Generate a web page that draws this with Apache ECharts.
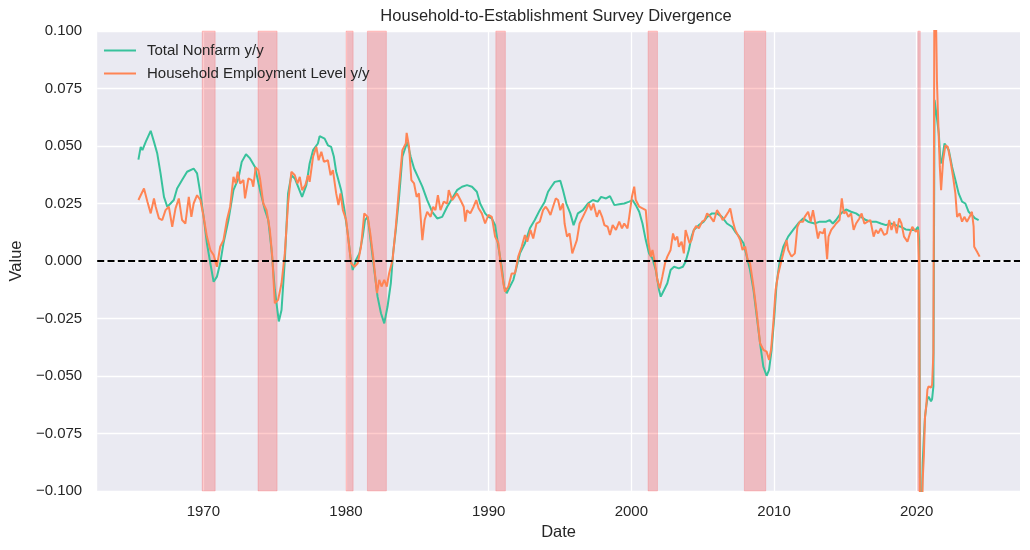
<!DOCTYPE html>
<html>
<head>
<meta charset="utf-8">
<title>Household-to-Establishment Survey Divergence</title>
<script src="https://cdn.jsdelivr.net/npm/echarts@6/dist/echarts.min.js"></script>
<style>
  html, body { margin: 0; padding: 0; background: #fff; }
  #chart { width: 1030px; height: 550px; }
</style>
</head>
<body>
<div id="chart"></div>
<script>
// y/y growth (decimal years)
const nonfarmDates = [
  1965.45, 1965.61, 1965.73, 1965.96, 1966.31, 1966.54, 1966.77, 1967.00, 1967.24, 1967.47,
  1967.70, 1967.93, 1968.16, 1968.51, 1968.86, 1969.32, 1969.56, 1969.79, 1970.02, 1970.25,
  1970.49, 1970.72, 1970.95, 1971.18, 1971.41, 1971.76, 1972.11, 1972.46, 1972.69, 1972.99,
  1973.27, 1973.62, 1973.97, 1974.32, 1974.55, 1974.78, 1975.01, 1975.29, 1975.48, 1975.71,
  1975.94, 1976.17, 1976.41, 1976.64, 1976.92, 1977.22, 1977.45, 1977.69, 1978.03, 1978.15,
  1978.50, 1978.73, 1978.96, 1979.15, 1979.31, 1979.66, 1979.89, 1980.12, 1980.31, 1980.47,
  1980.70, 1980.94, 1981.17, 1981.33, 1981.52, 1981.75, 1981.98, 1982.21, 1982.45, 1982.68,
  1982.91, 1983.14, 1983.30, 1983.49, 1983.72, 1983.95, 1984.14, 1984.30, 1984.53, 1984.77,
  1985.04, 1985.35, 1985.69, 1986.04, 1986.39, 1986.74, 1987.09, 1987.44, 1987.78, 1988.13,
  1988.48, 1988.83, 1989.17, 1989.40, 1989.75, 1989.98, 1990.22, 1990.45, 1990.68, 1990.91,
  1991.08, 1991.26, 1991.49, 1991.73, 1991.96, 1992.19, 1992.54, 1992.89, 1993.23, 1993.58,
  1993.93, 1994.16, 1994.39, 1994.63, 1995.02, 1995.21, 1995.44, 1995.72, 1995.95, 1996.25,
  1996.60, 1996.95, 1997.30, 1997.64, 1997.88, 1998.23, 1998.50, 1998.81, 1999.15, 1999.50,
  1999.85, 2000.08, 2000.31, 2000.55, 2000.78, 2001.01, 2001.24, 2001.47, 2001.71, 2001.94,
  2002.06, 2002.29, 2002.52, 2002.75, 2002.99, 2003.33, 2003.61, 2003.80, 2004.03, 2004.22,
  2004.38, 2004.73, 2005.07, 2005.31, 2005.65, 2006.00, 2006.35, 2006.70, 2007.05, 2007.28,
  2007.56, 2007.86, 2008.09, 2008.32, 2008.56, 2008.79, 2009.02, 2009.25, 2009.48, 2009.65,
  2009.83, 2010.02, 2010.18, 2010.41, 2010.65, 2010.99, 2011.34, 2011.69, 2012.04, 2012.39,
  2012.85, 2013.20, 2013.66, 2013.89, 2014.12, 2014.35, 2014.59, 2014.82, 2015.05, 2015.40,
  2015.75, 2016.10, 2016.44, 2016.79, 2017.14, 2017.49, 2017.84, 2018.18, 2018.53, 2018.88,
  2019.23, 2019.58, 2019.93, 2020.09, 2020.17, 2020.25, 2020.33, 2020.42, 2020.50, 2020.58,
  2020.67, 2020.75, 2020.83, 2020.92, 2021.00, 2021.08, 2021.17, 2021.25, 2021.40, 2021.55,
  2021.67, 2021.78, 2021.95, 2022.08, 2022.25, 2022.48, 2022.71, 2022.94, 2023.18, 2023.41,
  2023.64, 2023.87, 2024.10, 2024.34
];
const nonfarmValues = [
  0.0441, 0.0496, 0.0482, 0.0518, 0.0566, 0.0518, 0.0467, 0.0381, 0.0279, 0.0236,
  0.0250, 0.0265, 0.0315, 0.0352, 0.0388, 0.0402, 0.0381, 0.0294, 0.0192, 0.0077,
  -0.0010, -0.0090, -0.0068, -0.0010, 0.0077, 0.0178, 0.0308, 0.0359, 0.0431, 0.0464,
  0.0446, 0.0409, 0.0308, 0.0221, 0.0178, 0.0048, -0.0126, -0.0263, -0.0213, 0.0004,
  0.0294, 0.0373, 0.0359, 0.0323, 0.0279, 0.0330, 0.0424, 0.0482, 0.0511, 0.0543,
  0.0532, 0.0503, 0.0496, 0.0453, 0.0388, 0.0308, 0.0221, 0.0120, 0.0019, -0.0039,
  0.0004, 0.0033, 0.0106, 0.0178, 0.0192, 0.0077, -0.0039, -0.0155, -0.0227, -0.0271,
  -0.0198, -0.0097, 0.0033, 0.0135, 0.0279, 0.0453, 0.0489, 0.0518, 0.0453, 0.0402,
  0.0366, 0.0323, 0.0265, 0.0214, 0.0185, 0.0192, 0.0236, 0.0272, 0.0308, 0.0323,
  0.0330, 0.0323, 0.0301, 0.0250, 0.0207, 0.0192, 0.0185, 0.0156, 0.0062, -0.0025,
  -0.0111, -0.0140, -0.0111, -0.0082, -0.0025, 0.0033, 0.0077, 0.0142, 0.0178, 0.0221,
  0.0258, 0.0301, 0.0323, 0.0344, 0.0349, 0.0308, 0.0250, 0.0207, 0.0156, 0.0207,
  0.0221, 0.0250, 0.0265, 0.0258, 0.0279, 0.0272, 0.0282, 0.0243, 0.0247, 0.0250,
  0.0258, 0.0265, 0.0243, 0.0214, 0.0163, 0.0091, 0.0033, 0.0012, -0.0039, -0.0126,
  -0.0155, -0.0126, -0.0097, -0.0039, -0.0025, -0.0032, -0.0025, -0.0003, 0.0048, 0.0106,
  0.0135, 0.0156, 0.0171, 0.0192, 0.0207, 0.0207, 0.0192, 0.0163, 0.0149, 0.0127,
  0.0106, 0.0077, 0.0019, -0.0039, -0.0126, -0.0242, -0.0357, -0.0459, -0.0499, -0.0473,
  -0.0386, -0.0242, -0.0097, 0.0004, 0.0062, 0.0106, 0.0135, 0.0163, 0.0185, 0.0171,
  0.0163, 0.0171, 0.0171, 0.0178, 0.0163, 0.0178, 0.0200, 0.0214, 0.0224, 0.0214,
  0.0207, 0.0192, 0.0178, 0.0171, 0.0171, 0.0163, 0.0156, 0.0163, 0.0156, 0.0149,
  0.0137, 0.0135, 0.0135, 0.0149, 0.0090, -0.1310, -0.1150, -0.0880, -0.0770, -0.0680,
  -0.0630, -0.0600, -0.0590, -0.0600, -0.0610, -0.0600, -0.0545, 0.0700, 0.0630, 0.0554,
  0.0424, 0.0438, 0.0511, 0.0518, 0.0482, 0.0409, 0.0352, 0.0294, 0.0258, 0.0250,
  0.0214, 0.0200, 0.0185, 0.0178
];

const householdDates = [
  1965.45, 1965.61, 1965.84, 1966.08, 1966.31, 1966.54, 1966.66, 1966.89, 1967.12, 1967.35,
  1967.58, 1967.82, 1968.05, 1968.28, 1968.51, 1968.74, 1968.98, 1969.16, 1969.32, 1969.56,
  1969.79, 1970.02, 1970.25, 1970.49, 1970.72, 1970.95, 1971.18, 1971.41, 1971.65, 1971.88,
  1972.11, 1972.27, 1972.41, 1972.58, 1972.81, 1972.92, 1973.16, 1973.39, 1973.50, 1973.67,
  1973.85, 1973.97, 1974.20, 1974.43, 1974.66, 1974.83, 1975.01, 1975.24, 1975.48, 1975.71,
  1975.94, 1976.17, 1976.41, 1976.60, 1976.76, 1976.92, 1977.15, 1977.34, 1977.45, 1977.69,
  1977.92, 1978.08, 1978.27, 1978.45, 1978.73, 1978.92, 1979.08, 1979.31, 1979.47, 1979.61,
  1979.78, 1980.01, 1980.17, 1980.36, 1980.59, 1980.82, 1981.05, 1981.28, 1981.52, 1981.70,
  1981.93, 1982.17, 1982.33, 1982.49, 1982.68, 1982.86, 1983.02, 1983.26, 1983.49, 1983.72,
  1983.95, 1984.19, 1984.25, 1984.42, 1984.58, 1984.77, 1984.95, 1985.11, 1985.35, 1985.51,
  1985.69, 1985.93, 1986.11, 1986.27, 1986.44, 1986.62, 1986.85, 1987.09, 1987.20, 1987.44,
  1987.78, 1988.02, 1988.25, 1988.36, 1988.48, 1988.71, 1988.94, 1989.13, 1989.29, 1989.52,
  1989.75, 1989.98, 1990.22, 1990.45, 1990.68, 1990.84, 1991.03, 1991.14, 1991.38, 1991.61,
  1991.84, 1992.07, 1992.31, 1992.54, 1992.70, 1992.93, 1993.12, 1993.35, 1993.58, 1993.81,
  1994.00, 1994.16, 1994.33, 1994.51, 1994.70, 1994.86, 1995.02, 1995.21, 1995.32, 1995.49,
  1995.67, 1995.86, 1996.02, 1996.18, 1996.37, 1996.60, 1996.83, 1997.02, 1997.18, 1997.34,
  1997.58, 1997.76, 1997.95, 1998.11, 1998.34, 1998.50, 1998.69, 1998.92, 1999.15, 1999.34,
  1999.50, 1999.73, 1999.85, 2000.04, 2000.20, 2000.31, 2000.55, 2000.78, 2001.01, 2001.20,
  2001.36, 2001.48, 2001.66, 2001.82, 2001.99, 2002.17, 2002.36, 2002.52, 2002.75, 2002.92,
  2003.05, 2003.22, 2003.33, 2003.52, 2003.68, 2003.80, 2003.91, 2004.08, 2004.22, 2004.38,
  2004.54, 2004.73, 2004.96, 2005.14, 2005.31, 2005.54, 2005.77, 2006.00, 2006.23, 2006.40,
  2006.58, 2006.81, 2006.93, 2007.09, 2007.28, 2007.46, 2007.63, 2007.79, 2007.98, 2008.16,
  2008.32, 2008.56, 2008.79, 2009.02, 2009.25, 2009.48, 2009.65, 2009.79, 2009.95, 2010.11,
  2010.30, 2010.53, 2010.71, 2010.88, 2010.99, 2011.11, 2011.23, 2011.46, 2011.64, 2011.81,
  2012.04, 2012.15, 2012.39, 2012.57, 2012.73, 2012.90, 2013.08, 2013.20, 2013.43, 2013.55,
  2013.64, 2013.72, 2013.82, 2014.01, 2014.19, 2014.35, 2014.59, 2014.75, 2014.89, 2015.05,
  2015.21, 2015.40, 2015.58, 2015.75, 2015.98, 2016.14, 2016.33, 2016.56, 2016.75, 2016.98,
  2017.14, 2017.30, 2017.49, 2017.72, 2017.91, 2018.07, 2018.23, 2018.42, 2018.60, 2018.77,
  2018.93, 2019.11, 2019.35, 2019.53, 2019.69, 2019.93, 2020.09, 2020.17, 2020.25, 2020.33,
  2020.42, 2020.50, 2020.58, 2020.67, 2020.75, 2020.83, 2020.92, 2021.00, 2021.08, 2021.17,
  2021.25, 2021.33, 2021.42, 2021.50, 2021.62, 2021.71, 2021.85, 2022.01, 2022.18, 2022.36,
  2022.55, 2022.71, 2022.83, 2023.01, 2023.18, 2023.34, 2023.52, 2023.71, 2023.87, 2023.99,
  2024.03, 2024.22, 2024.41
];
const householdValues = [
  0.0265, 0.0286, 0.0315, 0.0258, 0.0207, 0.0272, 0.0236, 0.0185, 0.0178, 0.0221,
  0.0236, 0.0149, 0.0229, 0.0272, 0.0178, 0.0163, 0.0279, 0.0192, 0.0250, 0.0286,
  0.0265, 0.0192, 0.0106, 0.0048, 0.0026, -0.0025, 0.0062, 0.0091, 0.0178, 0.0236,
  0.0366, 0.0337, 0.0388, 0.0337, 0.0352, 0.0272, 0.0359, 0.0352, 0.0323, 0.0407,
  0.0395, 0.0359, 0.0250, 0.0221, 0.0135, 0.0019, -0.0184, -0.0169, -0.0097, 0.0033,
  0.0250, 0.0388, 0.0373, 0.0337, 0.0366, 0.0308, 0.0330, 0.0373, 0.0344, 0.0453,
  0.0496, 0.0438, 0.0475, 0.0431, 0.0438, 0.0373, 0.0395, 0.0294, 0.0243, 0.0294,
  0.0221, 0.0178, 0.0091, -0.0010, -0.0025, -0.0010, 0.0062, 0.0207, 0.0192, 0.0120,
  0.0004, -0.0140, -0.0082, -0.0111, -0.0082, -0.0111, -0.0054, 0.0004, 0.0149, 0.0323,
  0.0482, 0.0511, 0.0557, 0.0496, 0.0352, 0.0337, 0.0279, 0.0294, 0.0091, 0.0178,
  0.0214, 0.0192, 0.0236, 0.0221, 0.0286, 0.0221, 0.0258, 0.0250, 0.0308, 0.0265,
  0.0294, 0.0265, 0.0236, 0.0171, 0.0221, 0.0207, 0.0236, 0.0265, 0.0229, 0.0207,
  0.0163, 0.0200, 0.0192, 0.0106, 0.0077, -0.0010, -0.0097, -0.0133, -0.0111, -0.0054,
  -0.0054, 0.0019, 0.0062, 0.0113, 0.0084, 0.0135, 0.0098, 0.0163, 0.0171, 0.0221,
  0.0236, 0.0221, 0.0200, 0.0236, 0.0272, 0.0265, 0.0221, 0.0250, 0.0163, 0.0106,
  0.0120, 0.0033, 0.0062, 0.0091, 0.0163, 0.0192, 0.0221, 0.0250, 0.0221, 0.0250,
  0.0192, 0.0221, 0.0192, 0.0156, 0.0149, 0.0113, 0.0156, 0.0135, 0.0171, 0.0142,
  0.0163, 0.0142, 0.0192, 0.0279, 0.0323, 0.0265, 0.0236, 0.0229, 0.0221, 0.0077,
  0.0019, 0.0048, -0.0010, -0.0082, -0.0119, -0.0068, -0.0010, 0.0019, 0.0048, 0.0120,
  0.0091, 0.0106, 0.0062, 0.0084, 0.0033, 0.0135, 0.0142, 0.0077, 0.0091, 0.0135,
  0.0152, 0.0142, 0.0171, 0.0178, 0.0207, 0.0192, 0.0171, 0.0221, 0.0200, 0.0178,
  0.0192, 0.0214, 0.0229, 0.0178, 0.0135, 0.0113, 0.0091, 0.0048, 0.0062, 0.0004,
  -0.0010, -0.0111, -0.0227, -0.0357, -0.0386, -0.0394, -0.0430, -0.0386, -0.0271, -0.0126,
  -0.0054, 0.0004, 0.0048, 0.0091, 0.0048, 0.0033, 0.0019, 0.0033, 0.0149, 0.0171,
  0.0171, 0.0192, 0.0214, 0.0171, 0.0221, 0.0163, 0.0098, 0.0127, 0.0120, 0.0142,
  0.0140, 0.0008, 0.0106, 0.0135, 0.0149, 0.0163, 0.0178, 0.0272, 0.0207, 0.0214,
  0.0192, 0.0207, 0.0135, 0.0163, 0.0185, 0.0207, 0.0163, 0.0171, 0.0178, 0.0106,
  0.0135, 0.0120, 0.0142, 0.0113, 0.0120, 0.0178, 0.0135, 0.0171, 0.0120, 0.0185,
  0.0163, 0.0106, 0.0084, 0.0120, 0.0149, 0.0127, 0.0135, -0.0020, -0.1450, -0.1200,
  -0.0950, -0.0850, -0.0680, -0.0630, -0.0560, -0.0545, -0.0545, -0.0550, -0.0538, -0.0400,
  0.1400, 0.1150, 0.0780, 0.0620, 0.0409, 0.0308, 0.0438, 0.0503, 0.0496, 0.0438,
  0.0366, 0.0294, 0.0192, 0.0207, 0.0171, 0.0192, 0.0171, 0.0192, 0.0214, 0.0149,
  0.0062, 0.0041, 0.0019
];

// NBER recessions
const recessionStart = [1969.92, 1973.83, 1980.00, 1981.50, 1990.50, 2001.17, 2007.92, 2020.08];
const recessionEnd   = [1970.83, 1975.17, 1980.50, 1982.83, 1991.17, 2001.83, 2009.42, 2020.25];

const decadeTicks = [1970, 1980, 1990, 2000, 2010, 2020];

const FONT = '"Liberation Sans", Arial, "DejaVu Sans", sans-serif';
const TEXT = '#262626';

function pairs(xs, ys) {
  return xs.map((x, i) => [x, ys[i]]);
}

const chart = echarts.init(document.getElementById('chart'));

const option = {
  animation: false,
  textStyle: { fontFamily: FONT },
  title: {
    text: 'Household-to-Establishment Survey Divergence',
    left: 556,
    top: 8,
    padding: 0,
    textAlign: 'center',
    textStyle: { fontFamily: FONT, fontSize: 16.5, fontWeight: 'normal', color: TEXT }
  },
  legend: {
    orient: 'vertical',
    left: 104,
    top: 43,
    padding: 0,
    itemWidth: 32,
    itemHeight: 2,
    itemGap: 8,
    textStyle: { fontFamily: FONT, fontSize: 15, lineHeight: 14, color: TEXT, padding: [0, 0, 0, 6] },
    data: [
      { name: 'Total Nonfarm y/y', icon: 'rect' },
      { name: 'Household Employment Level y/y', icon: 'rect' }
    ]
  },
  grid: {
    left: 92, right: 10, top: 31, bottom: 59,
    show: true, backgroundColor: '#EAEAF2', borderWidth: 0
  },
  xAxis: {
    type: 'value',
    min: 1962.56,
    max: 2027.24,
    name: 'Date',
    nameLocation: 'middle',
    nameGap: 33,
    nameTextStyle: { fontFamily: FONT, fontSize: 16.5, color: TEXT },
    axisLine: { show: false },
    axisTick: { show: false, customValues: decadeTicks },
    axisLabel: { customValues: decadeTicks, color: TEXT, fontSize: 15, margin: 13, formatter: v => String(v) },
    splitLine: { show: true, lineStyle: { color: '#ffffff', width: 1.3 } }
  },
  yAxis: {
    type: 'value',
    min: -0.1,
    max: 0.1,
    interval: 0.025,
    name: 'Value',
    nameLocation: 'middle',
    nameGap: 67,
    nameTextStyle: { fontFamily: FONT, fontSize: 16.5, color: TEXT },
    axisLine: { show: false },
    axisTick: { show: false },
    axisLabel: {
      color: TEXT, fontSize: 15, margin: 15,
      formatter: v => (v < 0 ? '\u2212' : '') + Math.abs(v).toFixed(3)
    },
    splitLine: { show: true, lineStyle: { color: '#ffffff', width: 1.3 } }
  },
  series: [
    {
      type: 'line',
      data: [],
      silent: true,
      z: 1,
      markArea: {
        silent: true,
        itemStyle: { color: 'rgba(255,0,0,0.2)', borderColor: 'rgba(255,0,0,0.15)', borderWidth: 1 },
        data: recessionStart.map((s, i) => [{ xAxis: s }, { xAxis: recessionEnd[i] }])
      }
    },
    {
      name: 'Total Nonfarm y/y',
      type: 'line',
      data: pairs(nonfarmDates, nonfarmValues),
      symbol: 'none',
      z: 2,
      color: '#38c29c',
      lineStyle: { color: '#38c29c', width: 2 }
    },
    {
      name: 'Household Employment Level y/y',
      type: 'line',
      data: pairs(householdDates, householdValues),
      symbol: 'none',
      z: 3,
      color: '#ff8454',
      lineStyle: { color: '#ff8454', width: 2 }
    },
    {
      type: 'line',
      data: [],
      silent: true,
      z: 4,
      markLine: {
        silent: true,
        symbol: ['none', 'none'],
        label: { show: false },
        lineStyle: { color: '#000000', width: 2, type: [7, 3.3] },
        data: [{ yAxis: 0 }]
      }
    }
  ]
};

chart.setOption(option);
</script>
</body>
</html>
